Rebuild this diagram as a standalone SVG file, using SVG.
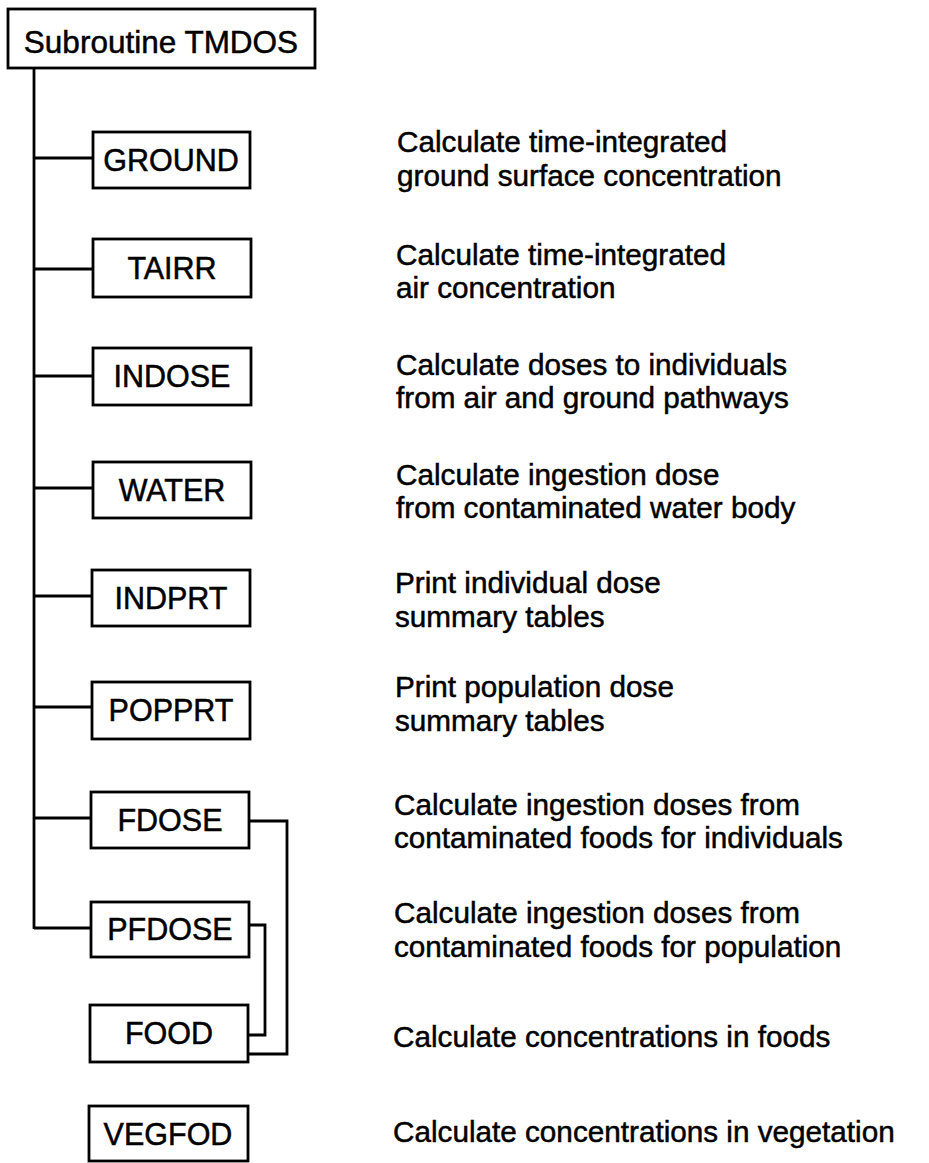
<svg xmlns="http://www.w3.org/2000/svg" width="929" height="1163" viewBox="0 0 929 1163">
  <style>
    .box { fill: #ffffff; stroke: #000000; stroke-width: 2.8; }
    .lbl { font-family: "Liberation Sans", Arial, Helvetica, sans-serif; font-size: 30.5px; fill: #000000; stroke: #000000; stroke-width: 0.5; text-anchor: middle; }
    .ttl { font-family: "Liberation Sans", Arial, Helvetica, sans-serif; font-size: 31.5px; fill: #000000; stroke: #000000; stroke-width: 0.5; text-anchor: middle; }
    .desc { font-family: "Liberation Sans", Arial, Helvetica, sans-serif; font-size: 29.7px; fill: #000000; stroke: #000000; stroke-width: 0.5; }
    .wire { fill: none; stroke: #000000; stroke-width: 2.8; stroke-linejoin: miter; }
  </style>
  <rect x="0" y="0" width="929" height="1163" fill="#ffffff"/>

  <!-- call-tree connectors -->
  <g id="connectors">
    <line class="wire" x1="34" y1="68" x2="34" y2="929"/>
    <line class="wire" x1="34" y1="158" x2="93" y2="158"/>
    <line class="wire" x1="34" y1="269" x2="93" y2="269"/>
    <line class="wire" x1="34" y1="376" x2="93" y2="376"/>
    <line class="wire" x1="34" y1="488" x2="93" y2="488"/>
    <line class="wire" x1="34" y1="596" x2="92" y2="596"/>
    <line class="wire" x1="34" y1="707" x2="92" y2="707"/>
    <line class="wire" x1="34" y1="818" x2="91" y2="818"/>
    <line class="wire" x1="34" y1="928" x2="91" y2="928"/>
    <!-- FDOSE -> FOOD -->
    <polyline class="wire" points="250,821 287,821 287,1054 249,1054"/>
    <!-- PFDOSE -> FOOD -->
    <polyline class="wire" points="249,925 265,925 265,1035 249,1035"/>
  </g>

  <g id="tmdos">
    <rect class="box" x="8" y="9" width="307" height="59"/>
    <text class="ttl" x="161" y="53">Subroutine TMDOS</text>
  </g>

  <g id="ground">
    <rect class="box" x="93" y="132" width="157" height="56"/>
    <text class="lbl" x="171" y="171">GROUND</text>
    <text class="desc" x="397" y="152">Calculate time-integrated</text>
    <text class="desc" x="397" y="186">ground surface concentration</text>
  </g>

  <g id="tairr">
    <rect class="box" x="93" y="239" width="158" height="58"/>
    <text class="lbl" x="172" y="279">TAIRR</text>
    <text class="desc" x="396" y="265">Calculate time-integrated</text>
    <text class="desc" x="396" y="298">air concentration</text>
  </g>

  <g id="indose">
    <rect class="box" x="93" y="348" width="158" height="57"/>
    <text class="lbl" x="172" y="387">INDOSE</text>
    <text class="desc" x="396" y="375">Calculate doses to individuals</text>
    <text class="desc" x="396" y="408">from air and ground pathways</text>
  </g>

  <g id="water">
    <rect class="box" x="93" y="462" width="158" height="56"/>
    <text class="lbl" x="172" y="501">WATER</text>
    <text class="desc" x="396" y="485">Calculate ingestion dose</text>
    <text class="desc" x="396" y="518">from contaminated water body</text>
  </g>

  <g id="indprt">
    <rect class="box" x="92" y="570" width="158" height="56"/>
    <text class="lbl" x="171" y="609">INDPRT</text>
    <text class="desc" x="395" y="593">Print individual dose</text>
    <text class="desc" x="395" y="627">summary tables</text>
  </g>

  <g id="popprt">
    <rect class="box" x="92" y="682" width="158" height="57"/>
    <text class="lbl" x="171" y="721">POPPRT</text>
    <text class="desc" x="395" y="697">Print population dose</text>
    <text class="desc" x="395" y="731">summary tables</text>
  </g>

  <g id="fdose">
    <rect class="box" x="91" y="792" width="158" height="56"/>
    <text class="lbl" x="170" y="831">FDOSE</text>
    <text class="desc" x="394" y="815">Calculate ingestion doses from</text>
    <text class="desc" x="394" y="848">contaminated foods for individuals</text>
  </g>

  <g id="pfdose">
    <rect class="box" x="91" y="902" width="158" height="55"/>
    <text class="lbl" x="170" y="940">PFDOSE</text>
    <text class="desc" x="394" y="923">Calculate ingestion doses from</text>
    <text class="desc" x="394" y="957">contaminated foods for population</text>
  </g>

  <g id="food">
    <rect class="box" x="90" y="1005" width="158" height="57"/>
    <text class="lbl" x="169" y="1044">FOOD</text>
    <text class="desc" x="393" y="1047">Calculate concentrations in foods</text>
  </g>

  <g id="vegfod">
    <rect class="box" x="89" y="1106" width="159" height="55"/>
    <text class="lbl" x="168" y="1145">VEGFOD</text>
    <text class="desc" x="393" y="1142">Calculate concentrations in vegetation</text>
  </g>
</svg>
